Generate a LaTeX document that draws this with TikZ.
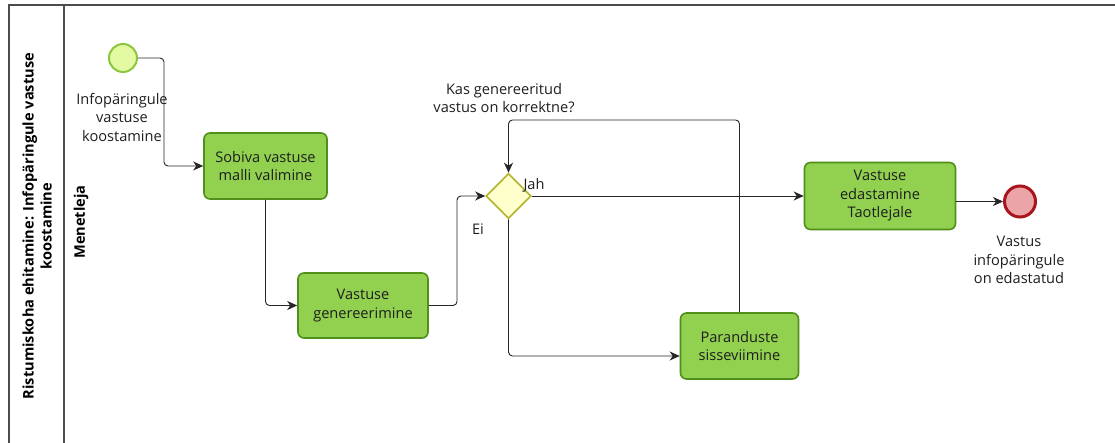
\documentclass[tikz,border=0pt]{standalone}
\usepackage{fontspec}
\setmainfont{Open Sans}
\usetikzlibrary{shapes.geometric,arrows.meta}
\definecolor{taskfill}{HTML}{92D050}
\definecolor{taskline}{HTML}{4F8F1A}
\definecolor{startfill}{HTML}{E3F9A2}
\definecolor{startline}{HTML}{8CC63F}
\definecolor{gwfill}{HTML}{FFFFCC}
\definecolor{gwline}{HTML}{B3B32B}
\definecolor{endfill}{HTML}{EBA5A9}
\definecolor{endline}{HTML}{A8151D}
\definecolor{txt}{HTML}{1E1E1E}
\tikzset{
  task/.style={rectangle, rounded corners=6pt, draw=taskline, fill=taskfill,
    line width=1.6pt, align=center, text=txt, inner sep=2pt,
    font=\fontsize{14.6}{18.5}\selectfont},
  startev/.style={circle, draw=startline, fill=startfill, line width=2pt,
    minimum size=28pt, inner sep=0pt},
  endev/.style={circle, draw=endline, fill=endfill, line width=3pt,
    minimum size=31pt, inner sep=0pt},
  gateway/.style={diamond, draw=gwline, fill=gwfill, line width=1.6pt,
    minimum width=45pt, minimum height=45pt, inner sep=0pt},
  lbl/.style={align=center, text=txt, inner sep=0pt,
    font=\fontsize{14.6}{18.5}\selectfont},
  flow/.style={draw=black!85, line width=0.9pt, rounded corners=4pt,
    -{Stealth[length=10pt,width=9pt,inset=3pt]}},
  poolline/.style={draw=black!70, line width=1.2pt},
}
\begin{document}
\begin{tikzpicture}[x=1pt,y=-1pt]
\useasboundingbox (0,0) rectangle (1115,443);
\fill[white] (0,0) rectangle (1115,443);

% pool and lane
\draw[poolline] (9,443) -- (9,5) -- (1115,5);
\draw[poolline] (64,5) -- (64,443);
\node[rotate=90, align=center, font=\fontsize{14.6}{18}\selectfont\bfseries, text=black]
  (pool) at (37,226) {Ristumiskoha ehitamine: Infopäringule vastuse\\koostamine};
\node[rotate=90, font=\fontsize{14.6}{18}\selectfont\bfseries, text=black]
  (lane) at (81,222) {Menetleja};

% events, tasks and gateway
\node[startev] (start) at (123,58) {};
\node[lbl] (startlbl) at (122,117) {Infopäringule\\vastuse\\koostamine};

\node[task, minimum width=123pt, minimum height=66pt] (t1) at (265.5,166) {Sobiva vastuse\\malli valimine};
\node[task, minimum width=130pt, minimum height=65pt] (t2) at (363,305.5) {Vastuse\\genereerimine};
\node[gateway] (gw) at (508.5,196) {};
\node[lbl] (gwlbl) at (504,98) {Kas genereeritud\\vastus on korrektne?};
\node[task, minimum width=151pt, minimum height=67pt] (t3) at (880,196) {Vastuse\\edastamine\\Taotlejale};
\node[task, minimum width=118pt, minimum height=66pt] (t4) at (739.5,346) {Paranduste\\sisseviimine};
\node[endev] (end) at (1020,201.5) {};
\node[lbl] (endlbl) at (1019,260) {Vastus\\infopäringule\\on edastatud};

\node[lbl] (jah) at (534,185) {Jah};
\node[lbl] (ei) at (478,229) {Ei};

% sequence flows
\draw[flow] (start.east) -- (164,58) -- (164,166) -- (t1.west);
\draw[flow] (t1.south) |- (t2.west);
\draw[flow] (t2.east) -- (457,305.5) |- (gw.west);
\draw[flow] (gw.east) -- (t3.west);
\draw[flow] (t3.east |- end) -- (end.west);
\draw[flow] (gw.south) |- ([yshift=-10pt]t4.west);
\draw[flow] (t4.north) -- (t4.north |- 0,120) -| (gw.north);
\end{tikzpicture}
\end{document}
